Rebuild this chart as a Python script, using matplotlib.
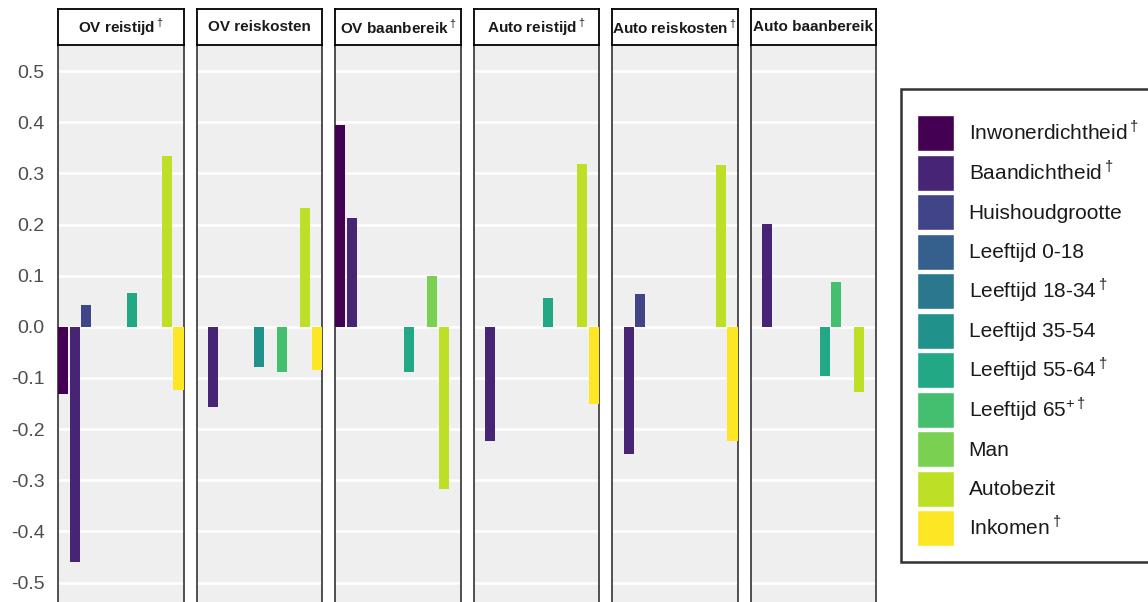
import matplotlib
matplotlib.use("Agg")
import matplotlib.pyplot as plt
from matplotlib.patches import Patch

plt.rcParams['font.family'] = ['Liberation Sans', 'DejaVu Sans']
plt.rcParams['mathtext.fontset'] = 'custom'
plt.rcParams['mathtext.rm'] = 'Liberation Sans'
plt.rcParams['mathtext.bf'] = 'Liberation Sans:bold'

# --- data ---
categories = ['Inwonerdichtheid$^\\dagger$', 'Baandichtheid$^\\dagger$', 'Huishoudgrootte',
              'Leeftijd 0-18', 'Leeftijd 18-34$^\\dagger$', 'Leeftijd 35-54',
              'Leeftijd 55-64$^\\dagger$', 'Leeftijd 65$^{+\\dagger}$', 'Man', 'Autobezit',
              'Inkomen$^\\dagger$']
colors = ['#440154', '#482475', '#414487', '#355F8D', '#2A788E', '#21918C',
          '#22A884', '#44BF70', '#7AD151', '#BDDF26', '#FDE725']

panels = ['OV reistijd$^\\dagger$', 'OV reiskosten', 'OV baanbereik$^\\dagger$',
          'Auto reistijd$^\\dagger$', 'Auto reiskosten$^\\dagger$', 'Auto baanbereik']

ov_reistijd = [-0.132, -0.459, 0.043, 0, 0, 0, 0.067, 0, 0, 0.334, -0.124]
ov_reiskosten = [0, -0.156, 0, 0, 0, -0.079, 0, -0.088, 0, 0.232, -0.085]
ov_baanbereik = [0.394, 0.212, 0, 0, 0, 0, -0.088, 0, 0.099, -0.318, 0]
auto_reistijd = [0, -0.224, 0, 0, 0, 0, 0.057, 0, 0, 0.318, -0.151]
auto_reiskosten = [0, -0.249, 0.064, 0, 0, 0, 0, 0, 0, 0.316, -0.223]
auto_baanbereik = [0, 0.202, 0, 0, 0, 0, -0.096, 0.088, 0, -0.128, 0]
values = [ov_reistijd, ov_reiskosten, ov_baanbereik,
          auto_reistijd, auto_reiskosten, auto_baanbereik]

yticks = [0.5, 0.4, 0.3, 0.2, 0.1, 0.0, -0.1, -0.2, -0.3, -0.4, -0.5]
ytick_labels = ['0.5', '0.4', '0.3', '0.2', '0.1', '0.0', '-0.1', '-0.2', '-0.3', '-0.4', '-0.5']

# --- figure ---
W, H = 1148, 602
fig = plt.figure(figsize=(W / 100, H / 100), dpi=100)

x0, step, pw = 58, 138.5, 125.5
top_px, strip_top = 45, 9
for i, (title, vals) in enumerate(zip(panels, values)):
    left = (x0 + i * step) / W
    ax = fig.add_axes([left, 0, pw / W, (H - top_px) / H])
    ax.set_facecolor('#EFEFEF')
    ax.bar(range(len(vals)), vals, width=0.88, color=colors, zorder=3)
    ax.set_xlim(-0.44, len(vals) - 0.56)
    ax.set_ylim(-0.538, 0.551)
    ax.set_yticks(yticks)
    ax.set_xticks([])
    ax.grid(axis='y', color='white', linewidth=1.8, zorder=1)
    ax.tick_params(axis='y', length=0, pad=9.5, labelsize=14, labelcolor='#4D4D4D')
    if i == 0:
        ax.set_yticklabels(ytick_labels)
    else:
        ax.set_yticklabels([])
    for s in ['left', 'right']:
        ax.spines[s].set_color('#333333')
        ax.spines[s].set_linewidth(1.2)
    ax.spines['top'].set_visible(False)
    ax.spines['bottom'].set_visible(False)

    sax = fig.add_axes([left, (H - top_px) / H, pw / W, (top_px - strip_top) / H])
    sax.set_facecolor('white')
    sax.set_xticks([])
    sax.set_yticks([])
    for s in sax.spines.values():
        s.set_color('black')
        s.set_linewidth(1.3)
    sax.text(0.5, 0.5, title, ha='center', va='center', fontsize=11,
             fontweight='bold', color='#1A1A1A', transform=sax.transAxes)

handles = [Patch(facecolor=c, edgecolor='white', linewidth=1) for c in colors]
leg = fig.legend(handles, categories, loc='upper left',
                 bbox_to_anchor=(901 / W, 1 - 89 / H), fontsize=15,
                 title=' ', title_fontsize=5,
                 handlelength=1.78, handleheight=2.28, handletextpad=0.72,
                 labelspacing=0.17, borderpad=0.75, borderaxespad=0,
                 fancybox=False, frameon=True)
leg.get_frame().set_edgecolor('black')
leg.get_frame().set_linewidth(1.8)
for t in leg.get_texts():
    t.set_color('#1A1A1A')

fig.savefig('out.png', dpi=100)
